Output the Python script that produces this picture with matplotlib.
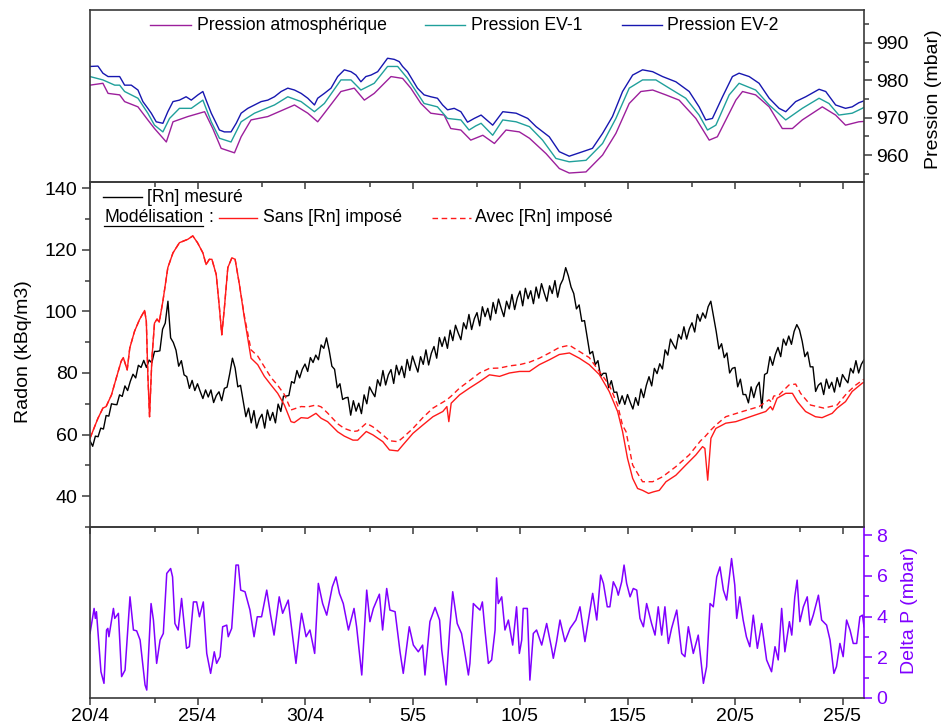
import matplotlib
matplotlib.use("Agg")
import matplotlib.pyplot as plt
import numpy as np
from matplotlib.lines import Line2D
from matplotlib.ticker import MultipleLocator, FixedLocator

plt.rcParams['font.family'] = ['Liberation Sans', 'DejaVu Sans']

# time axis: days since 20/4
tick_days = [0, 5, 10, 15, 20, 25, 30, 35]
tick_labels = ['20/4', '25/4', '30/4', '5/5', '10/5', '15/5', '20/5', '25/5']
minor_days = [3, 8, 13, 18, 23, 28, 33]

# pressures (mbar)
p_atm_days = [0, 0.6, 0.84, 1.38, 1.61, 2.23, 2.69, 3.0, 3.55, 3.86, 4.55, 5.33, 5.71, 6.1, 6.72, 7.03,
              7.49, 8.27, 9.51, 10.13, 10.59, 10.9, 11.67, 12.29, 12.76, 13.22, 14.0, 14.54, 14.92, 15.39,
              15.85, 16.47, 16.78, 17.25, 17.71, 18.27, 18.81, 19.35, 19.97, 20.44, 21.21, 21.83, 22.29,
              23.07, 23.84, 24.46, 25.08, 25.62, 26.17, 26.78, 27.4, 28.18, 28.8, 29.18, 30.04, 30.35,
              30.96, 31.59, 32.2, 32.67, 33.13, 34.06, 34.68, 35.14, 35.76, 36.0]
p_atm = [978.7, 979.2, 976.5, 976.1, 974.3, 972.9, 969.4, 967.1, 963.5, 968.9, 970.3, 971.6, 967.1, 961.8,
         960.6, 964.9, 969.4, 970.3, 973.4, 971.2, 968.9, 971.2, 977.0, 977.9, 974.7, 976.5, 981.0, 980.5,
         977.9, 973.8, 971.2, 970.7, 967.1, 966.7, 964.0, 965.3, 963.1, 966.7, 966.2, 964.5, 960.4, 956.4,
         955.2, 955.5, 960.0, 965.8, 973.8, 977.0, 977.4, 976.1, 974.7, 969.8, 964.0, 964.9, 974.7, 977.0,
         976.1, 972.9, 967.1, 967.1, 969.4, 972.9, 970.7, 968.0, 968.9, 969.0]

p_ev1_days = [0, 0.6, 1.15, 1.38, 1.61, 2.23, 2.69, 3.0, 3.39, 3.7, 4.16, 4.71, 5.25, 5.64, 6.02, 6.56,
              7.03, 7.65, 8.58, 9.2, 9.82, 10.44, 10.9, 11.67, 12.14, 12.6, 13.22, 13.84, 14.31, 14.77,
              15.54, 16.16, 16.63, 17.25, 17.63, 17.94, 18.19, 18.73, 19.2, 19.82, 20.44, 21.05, 21.67,
              22.29, 23.07, 23.84, 24.46, 25.08, 25.7, 26.32, 26.94, 27.71, 28.33, 28.72, 29.11, 29.73,
              30.19, 30.96, 31.59, 32.36, 33.13, 33.91, 34.37, 34.83, 35.45, 35.92, 36.0]
p_ev1 = [981.0, 980.1, 978.7, 978.7, 977.0, 975.2, 971.2, 968.0, 966.2, 969.8, 972.5, 972.5, 974.7, 968.9,
         964.5, 963.5, 968.9, 971.2, 973.4, 975.6, 974.3, 971.6, 973.8, 980.1, 980.1, 977.4, 979.2, 983.7,
         983.7, 980.5, 973.8, 972.9, 969.8, 969.4, 966.7, 967.8, 968.5, 965.3, 969.4, 968.9, 967.6, 964.0,
         959.1, 958.2, 958.6, 963.1, 969.8, 977.9, 980.1, 980.1, 977.9, 975.2, 970.7, 966.7, 968.0, 976.1,
         979.2, 977.4, 973.4, 969.4, 972.5, 975.2, 973.8, 970.7, 971.2, 972.5, 972.8]

p_ev2_days = [0, 0.37, 0.6, 0.84, 1.15, 1.38, 1.61, 1.92, 2.23, 2.46, 2.69, 2.85, 3.08, 3.39, 3.62, 3.86,
              4.16, 4.47, 4.71, 5.02, 5.25, 5.4, 5.64, 5.87, 6.02, 6.25, 6.56, 6.8, 7.03, 7.34, 7.65, 7.96,
              8.27, 8.58, 8.89, 9.2, 9.51, 9.82, 10.13, 10.44, 10.59, 10.9, 11.21, 11.52, 11.83, 12.14,
              12.37, 12.6, 12.83, 13.07, 13.38, 13.61, 13.84, 14.15, 14.38, 14.54, 14.77, 15.0, 15.23,
              15.54, 15.85, 16.16, 16.4, 16.63, 16.94, 17.25, 17.56, 17.87, 18.19, 18.73, 19.2, 19.82,
              20.36, 20.75, 21.36, 21.83, 22.29, 22.91, 23.37, 23.84, 24.3, 24.77, 25.24, 25.7, 26.17,
              26.63, 27.25, 27.87, 28.33, 28.64, 28.95, 29.42, 29.88, 30.19, 30.66, 31.12, 31.59, 32.05,
              32.36, 32.82, 33.29, 33.91, 34.22, 34.68, 35.14, 35.45, 35.76, 36.0]
p_ev2 = [983.7, 983.8, 981.9, 981.0, 981.0, 981.0, 978.7, 978.7, 977.4, 974.3, 972.5, 971.2, 968.9, 968.5,
         971.6, 974.3, 974.7, 975.6, 974.7, 976.1, 977.0, 974.7, 971.2, 968.5, 966.7, 966.2, 966.2, 968.5,
         971.2, 972.5, 973.4, 974.3, 974.7, 975.6, 977.0, 977.9, 977.4, 976.5, 975.2, 973.4, 975.2, 976.5,
         977.9, 981.0, 982.8, 982.3, 981.4, 979.6, 981.0, 981.4, 982.3, 984.1, 985.9, 985.6, 985.0, 983.7,
         982.3, 980.1, 977.9, 976.1, 975.6, 975.2, 973.4, 972.1, 972.5, 971.6, 968.8, 969.8, 970.7, 968.0,
         971.6, 971.2, 969.8, 967.6, 964.9, 960.9, 959.7, 960.9, 961.8, 965.8, 970.3, 977.0, 981.4, 982.8,
         982.3, 981.0, 979.6, 977.0, 972.9, 969.4, 969.8, 975.6, 981.0, 981.9, 981.0, 979.2, 975.2, 972.5,
         971.6, 974.3, 975.6, 977.6, 977.0, 973.4, 972.5, 972.9, 974.0, 974.5]

# measured radon (kBq/m3), one value every 3 hours from 20/4
rn_step = 0.125
rn_meas = [58.0, 56.2, 59.5, 59.3, 62.1, 61.8, 66.2, 66.0, 70.0, 69.8, 69.7, 72.9, 72.4, 75.8, 74.3, 77.3,
           79.6, 78.4, 82.5, 81.8, 84.1, 81.8, 84.2, 83.3,
           87.0, 87.0, 87.2, 94.2, 96.2, 103.3, 91.4, 89.9, 87.4, 82.2, 84.0, 79.4, 78.8, 75.0, 77.6, 74.3,
           76.5, 74.0, 71.7, 74.5, 72.2, 74.5, 70.4, 72.7, 73.9, 71.0, 75.0, 75.4, 79.8, 84.8, 81.6, 75.5,
           76.0, 70.8, 65.8, 68.6, 63.8, 67.8, 62.1, 65.1, 66.6, 62.1, 68.0, 64.6, 67.2, 63.8, 69.9, 67.5,
           72.5, 72.5, 72.7, 77.2, 76.7, 80.8, 78.4, 81.2, 82.9, 80.5, 85.0, 83.4, 85.8, 84.3, 89.1, 88.0,
           91.4, 87.3, 82.2, 81.2, 75.2, 76.5, 71.4, 71.9,
           72.1, 66.3, 71.0, 67.6, 70.2, 66.8, 72.9, 70.0, 75.5, 73.8, 72.3, 77.8, 75.8, 80.8, 76.1, 79.4,
           81.1, 76.6, 82.5, 79.4, 82.2, 78.5, 84.4, 80.8, 85.5, 82.8, 80.3, 85.3, 82.8, 87.5, 82.6, 86.4,
           88.6, 84.8, 91.5, 88.6, 91.7, 88.0, 93.9, 90.5, 95.5, 93.0, 90.8, 96.3, 94.3, 99.0, 94.1, 97.6,
           99.6, 95.3, 101.5, 98.3, 101.0, 97.2, 102.9, 99.3, 104.0, 101.0, 98.3, 103.3, 100.8, 105.5, 100.6,
           104.4,
           106.6, 101.8, 107.5, 104.1, 106.7, 102.5, 107.9, 104.3, 109.0, 106.0, 103.3, 108.3, 105.8, 110.0,
           104.6, 108.6,
           110.4, 114.2, 111.5, 107.9, 105.8, 100.8, 102.1, 96.8, 97.0, 91.5, 86.2, 87.0, 82.7, 84.0, 78.9,
           79.9,
           79.9, 75.2, 77.5, 73.7, 73.8, 70.0, 72.6, 69.8,
           73.0, 70.5, 68.3, 72.0, 69.5, 74.8, 72.0, 76.0, 78.8, 75.8, 81.5, 79.8, 83.0, 81.3, 87.5, 85.8,
           91.0, 89.3, 87.8, 92.5, 91.0, 95.0, 91.0, 94.3, 96.3, 93.3, 99.0, 96.8, 99.5, 97.8, 101.5, 103.3,
           98.5, 93.5, 87.8, 89.5, 85.0, 86.5, 80.0, 81.5, 81.8, 75.5, 78.0, 73.0, 73.0, 70.3, 75.5, 72.0,
           75.5, 77.0, 68.6, 79.5, 80.0, 85.3, 82.5, 86.0, 88.3, 85.3, 91.0, 89.0, 92.0, 89.3, 93.5, 95.7,
           94.0, 90.3, 85.3, 86.8, 82.0, 82.0, 74.0, 76.0, 76.8, 73.0, 78.0, 75.0, 77.0, 73.8, 78.5, 75.5,
           79.5, 78.0, 76.8, 81.5, 80.0, 84.0, 80.0, 82.8, 84.3]
rn_days = np.arange(len(rn_meas)) * rn_step

# model without imposed [Rn]
sans_days = [0, 0.37, 0.6, 0.75, 1.0, 1.22, 1.45, 1.55, 1.73, 1.85, 2.07, 2.3, 2.54, 2.62, 2.69, 2.77,
             2.88, 3.0, 3.12, 3.22, 3.39, 3.62, 3.86, 4.16, 4.55, 4.78, 5.0, 5.25, 5.4, 5.55, 5.67, 5.87,
             6.02, 6.13, 6.25, 6.41, 6.6, 6.75, 6.95, 7.18, 7.49, 7.8, 8.11, 8.42, 8.73, 9.04, 9.35, 9.5,
             9.82, 10.13, 10.51, 10.75, 11.05, 11.52, 11.83, 12.23, 12.45, 12.85, 13.16, 13.62, 13.93,
             14.32, 14.55, 15.02, 15.48, 15.95, 16.41, 16.6, 16.69, 16.8, 17.19, 17.65, 18.12, 18.58,
             19.05, 19.51, 19.98, 20.44, 20.9, 21.37, 21.83, 22.3, 22.76, 23.22, 23.69, 24.15, 24.54,
             24.77, 25.0, 25.24, 25.47, 25.7, 25.98, 26.2, 26.48, 26.79, 27.25, 27.71, 28.18, 28.49,
             28.6, 28.73, 28.88, 29.11, 29.57, 30.04, 30.5, 30.96, 31.43, 31.65, 31.75, 31.96, 32.36,
             32.67, 32.9, 33.28, 33.74, 34.05, 34.52, 34.75, 35.14, 35.45, 35.92, 36.0]
sans_rn = [58.8, 65.3, 68.6, 69.1, 72.9, 78.3, 83.8, 85.0, 81.0, 88.1, 93.5, 97.3, 100.3, 96.8, 79.4,
           65.8, 84.8, 96.2, 97.5, 96.5, 103.3, 114.2, 119.0, 122.3, 123.4, 124.5, 122.3, 119.0, 115.2,
           116.9, 116.9, 112.0, 101.1, 92.4, 101.1, 114.2, 117.4, 116.9, 108.7, 97.9, 84.8, 82.7, 78.9,
           76.1, 73.4, 69.6, 64.2, 63.9, 65.5, 65.3, 66.9, 65.3, 64.2, 60.9, 59.5, 58.2, 58.2, 61.0,
           59.9, 57.7, 55.0, 54.7, 56.6, 60.4, 63.1, 65.8, 67.5, 69.1, 64.2, 70.2, 72.9, 75.1, 77.2,
           79.4, 78.9, 80.0, 80.5, 80.5, 82.7, 84.3, 86.0, 86.5, 84.8, 82.7, 79.5, 74.0, 67.5, 61.0,
           52.3, 45.8, 42.5, 41.9, 40.9, 41.4, 41.9, 44.7, 46.8, 50.1, 53.4, 56.1, 55.5, 45.2, 58.8,
           62.0, 63.7, 64.2, 65.3, 66.4, 67.5, 69.1, 68.0, 71.8, 73.4, 73.4, 70.7, 67.5, 65.8, 65.5,
           66.9, 68.6, 70.7, 74.0, 76.7, 77.0]

# model with imposed [Rn]
avec_days = [0, 0.37, 0.6, 0.75, 1.0, 1.22, 1.45, 1.55, 1.73, 1.85, 2.07, 2.3, 2.54, 2.62, 2.69, 2.77,
             2.88, 3.0, 3.12, 3.22, 3.39, 3.62, 3.86, 4.16, 4.55, 4.78, 5.0, 5.25, 5.4, 5.55, 5.67, 5.87,
             6.02, 6.13, 6.25, 6.41, 6.6, 6.75, 6.95, 7.18, 7.49, 7.8, 8.11, 8.42, 8.73, 9.04, 9.35,
             9.82, 10.13, 10.51, 10.75, 11.05, 11.52, 11.83, 12.23, 12.45, 12.85, 13.16, 13.62, 13.93,
             14.32, 14.55, 15.02, 15.48, 15.95, 16.41, 16.6, 16.8, 17.19, 17.65, 18.12, 18.58, 19.05,
             19.51, 19.98, 20.44, 20.9, 21.37, 21.83, 22.3, 22.76, 23.22, 23.69, 24.15, 24.54, 24.77,
             24.93, 25.24, 25.7, 26.17, 26.63, 27.25, 27.87, 28.4, 28.6, 28.88, 29.11, 29.57, 30.35,
             31.12, 31.58, 31.7, 31.8, 32.05, 32.51, 32.82, 33.05, 33.51, 34.13, 34.75, 35.2, 35.6, 36.0]
avec_rn = [58.8, 65.3, 68.6, 69.1, 72.9, 78.3, 83.8, 85.0, 81.0, 88.1, 93.5, 97.3, 100.3, 96.8, 79.4,
           65.8, 84.8, 96.2, 97.5, 96.5, 103.3, 114.2, 119.0, 122.3, 123.4, 124.5, 122.3, 119.0, 115.2,
           116.9, 116.9, 112.0, 101.1, 92.4, 101.1, 114.2, 117.4, 116.9, 108.7, 98.5, 87.5, 85.5, 82.0,
           78.5, 76.0, 73.0, 68.0, 69.1, 69.0, 69.6, 69.0, 67.0, 63.5, 62.0, 61.0, 61.2, 63.7, 62.5,
           59.9, 58.0, 57.7, 59.0, 62.0, 65.5, 68.6, 70.5, 71.3, 72.5, 75.1, 77.5, 80.0, 81.5, 81.6,
           82.3, 82.7, 83.5, 84.8, 86.5, 88.3, 89.0, 87.0, 85.0, 80.5, 76.1, 69.6, 63.0, 61.0, 50.1,
           44.7, 44.7, 46.3, 49.6, 53.4, 58.0, 59.3, 61.5, 63.1, 65.8, 67.5, 69.1, 71.3, 70.5, 72.5,
           72.9, 76.1, 76.4, 73.4, 69.6, 68.6, 69.6, 73.4, 76.0, 78.0]

# pressure difference (mbar)
dp_days = [0.0, 0.19, 0.25, 0.3, 0.51, 0.65, 0.77, 0.83, 0.88, 1.09, 1.15, 1.32, 1.47, 1.63, 1.86, 2.02,
           2.17, 2.33, 2.56, 2.64, 2.84, 2.95, 3.1, 3.26, 3.41, 3.57, 3.75, 3.84, 3.95, 4.1, 4.26, 4.49,
           4.62, 4.81, 4.96, 5.09, 5.27, 5.43, 5.61, 5.78, 5.89, 6.05, 6.17, 6.36, 6.43, 6.59, 6.67, 6.79,
           6.9, 7.01, 7.21, 7.44, 7.63, 7.78, 7.98, 8.22, 8.4, 8.56, 8.8, 8.96, 9.22, 9.33, 9.58, 9.77,
           9.84, 10.05, 10.23, 10.45, 10.62, 10.82, 11.01, 11.27, 11.44, 11.6, 11.78, 12.02, 12.28, 12.4,
           12.64, 12.87, 13.02, 13.18, 13.46, 13.61, 13.8, 13.95, 14.19, 14.42, 14.57, 14.85, 15.04,
           15.27, 15.47, 15.58, 15.81, 16.05, 16.26, 16.36, 16.56, 16.74, 16.87, 17.08, 17.28, 17.44,
           17.6, 17.67, 17.83, 17.98, 18.14, 18.25, 18.37, 18.53, 18.68, 18.84, 18.91, 18.99, 19.15,
           19.3, 19.46, 19.66, 19.84, 19.97, 20.08, 20.15, 20.34, 20.46, 20.62, 20.77, 21.01, 21.24,
           21.47, 21.55, 21.7, 21.86, 22.09, 22.33, 22.6, 22.79, 23.02, 23.18, 23.38, 23.57, 23.75,
           23.88, 24.06, 24.18, 24.34, 24.49, 24.57, 24.73, 24.84, 24.96, 25.12, 25.27, 25.43, 25.58,
           25.74, 25.89, 26.12, 26.28, 26.43, 26.59, 26.74, 26.9, 27.05, 27.29, 27.52, 27.67, 27.83,
           28.06, 28.29, 28.53, 28.68, 28.84, 28.99, 29.15, 29.3, 29.46, 29.61, 29.84, 29.99, 30.08,
           30.22, 30.38, 30.53, 30.69, 30.85, 31.04, 31.24, 31.47, 31.7, 31.86, 32.01, 32.17, 32.32,
           32.53, 32.64, 32.78, 32.89, 33.02, 33.18, 33.36, 33.49, 33.64, 33.88, 34.03, 34.26, 34.42,
           34.6, 34.72, 34.88, 35.03, 35.19, 35.35, 35.5, 35.66, 35.81, 35.93, 36.0]
dp_vals = [3.17, 4.4, 3.91, 4.24, 1.29, 0.72, 3.34, 3.42, 3.01, 4.4, 3.91, 4.16, 1.05, 1.37, 4.97, 3.34,
           3.3, 2.85, 0.64, 0.39, 4.64, 3.83, 1.7, 2.85, 3.17, 6.12, 6.36, 5.95, 3.66, 3.34, 4.89, 2.44,
           2.52, 4.72, 4.72, 3.99, 4.72, 2.19, 1.21, 2.27, 1.7, 2.03, 3.5, 3.58, 3.01, 3.42, 4.64, 6.53,
           6.53, 5.3, 5.22, 4.32, 3.01, 3.99, 3.99, 5.3, 4.07, 3.09, 4.97, 4.16, 4.81, 3.83, 1.7, 3.58,
           4.16, 3.01, 3.34, 2.19, 5.63, 4.64, 4.07, 5.46, 5.95, 5.14, 4.64, 3.34, 4.4, 3.5, 1.13, 5.3,
           3.75, 4.4, 5.1, 3.34, 5.38, 4.32, 4.24, 2.27, 1.21, 3.5, 2.6, 2.27, 2.6, 1.13, 3.75, 4.45,
           3.83, 2.35, 0.64, 3.5, 5.22, 3.66, 3.17, 2.19, 1.13, 1.7, 4.64, 4.48, 4.32, 4.72, 3.34, 1.7,
           1.87, 3.34, 5.9, 4.64, 4.97, 3.34, 3.83, 2.6, 4.48, 2.19, 2.85, 4.4, 4.4, 0.88, 3.17, 3.34,
           2.6, 3.66, 2.44, 1.95, 2.77, 3.83, 2.77, 3.42, 3.83, 4.48, 2.77, 3.83, 5.14, 3.83, 6.04,
           5.63, 4.48, 4.48, 5.71, 5.38, 5.05, 5.71, 6.53, 5.63, 4.97, 5.38, 5.3, 3.91, 3.5, 4.64, 3.66,
           3.09, 4.48, 3.09, 4.48, 2.68, 3.42, 4.32, 2.19, 2.03, 3.5, 2.19, 3.09, 0.72, 1.54, 4.64, 4.48,
           5.95, 6.44, 5.3, 4.81, 6.85, 5.54, 3.91, 4.97, 3.83, 3.01, 2.52, 4.07, 2.44, 3.66, 1.87, 1.29,
           2.52, 1.87, 4.4, 2.27, 3.75, 3.09, 4.97, 5.79, 3.75, 4.48, 4.97, 3.58, 4.07, 5.05, 3.83, 3.58,
           2.85, 1.21, 1.54, 2.68, 2.03, 3.83, 3.34, 2.68, 2.68, 3.99, 4.07, 3.5]

c_atm = '#9c1f9c'
c_ev1 = '#20a09b'
c_ev2 = '#1717b0'
c_red = '#ff1a1a'
c_dp = '#8000ff'
c_frame = '#3a3a3a'

W, H = 943, 727
fig = plt.figure(figsize=(W / 100, H / 100), dpi=100)


def fx(px):
    return px / W


def fy(py):
    return 1 - py / H


left, right = 90, 864
ax_p = fig.add_axes([fx(left), fy(182), fx(right - left), (182 - 10) / H])
ax_rn = fig.add_axes([fx(left), fy(527), fx(right - left), (527 - 182) / H])
ax_dp = fig.add_axes([fx(left), fy(698), fx(right - left), (698 - 527) / H])

for ax in (ax_p, ax_rn, ax_dp):
    ax.patch.set_visible(False)
    ax.set_xlim(0, 36)
    for sp in ax.spines.values():
        sp.set_color(c_frame)
        sp.set_linewidth(1.2)
    ax.xaxis.set_major_locator(FixedLocator(tick_days))
    ax.xaxis.set_minor_locator(FixedLocator(minor_days))
    ax.tick_params(axis='x', which='both', direction='out', bottom=True, top=False,
                   labelbottom=False, color=c_frame, width=1.1)
    ax.tick_params(axis='x', which='major', length=5)
    ax.tick_params(axis='x', which='minor', length=3.5)

# top panel: pressures
ax_p.plot(p_atm_days, p_atm, color=c_atm, lw=1.0)
ax_p.plot(p_ev1_days, p_ev1, color=c_ev1, lw=1.0)
ax_p.plot(p_ev2_days, p_ev2, color=c_ev2, lw=1.0)
ax_p.set_ylim(952.8, 998.8)
ax_p.yaxis.tick_right()
ax_p.yaxis.set_major_locator(MultipleLocator(10))
ax_p.yaxis.set_minor_locator(MultipleLocator(5))
ax_p.tick_params(axis='y', which='both', direction='out', left=False, right=True,
                 labelsize=14, color=c_frame, width=1.1, pad=3)
ax_p.tick_params(axis='y', which='major', length=6)
ax_p.tick_params(axis='y', which='minor', length=3.5)

# middle panel: radon
ax_rn.plot(rn_days, rn_meas, color='black', lw=1.0)
ax_rn.plot(sans_days, sans_rn, color=c_red, lw=1.0)
ax_rn.plot(avec_days, avec_rn, color=c_red, lw=1.0, dashes=(4, 2.6))
ax_rn.set_ylim(30, 142)
ax_rn.yaxis.set_major_locator(MultipleLocator(20))
ax_rn.yaxis.set_minor_locator(MultipleLocator(10))
ax_rn.tick_params(axis='y', which='both', direction='out', left=True, right=False,
                  labelsize=14, color=c_frame, width=1.1, pad=3)
ax_rn.tick_params(axis='y', which='major', length=6)
ax_rn.tick_params(axis='y', which='minor', length=3.5)

# bottom panel: delta P
ax_dp.plot(dp_days, dp_vals, color=c_dp, lw=1.1)
ax_dp.set_ylim(0, 8.4)
ax_dp.yaxis.tick_right()
ax_dp.yaxis.set_major_locator(MultipleLocator(2))
ax_dp.yaxis.set_minor_locator(MultipleLocator(1))
ax_dp.tick_params(axis='y', which='both', direction='out', left=False, right=True,
                  labelsize=14, color=c_dp, labelcolor=c_dp, width=1.1, pad=3)
ax_dp.tick_params(axis='y', which='major', length=6)
ax_dp.tick_params(axis='y', which='minor', length=3.5)
ax_dp.spines['right'].set_color(c_dp)
ax_dp.set_xticklabels(tick_labels)
ax_dp.tick_params(axis='x', labelbottom=True, labelsize=14, pad=2)

# axis titles
fig.text(fx(24), fy(352), 'Radon (kBq/m3)', rotation=90, ha='center', va='center', fontsize=14)
fig.text(fx(933), fy(99), 'Pression (mbar)', rotation=90, ha='center', va='center', fontsize=14)
fig.text(fx(909), fy(610), 'Delta P (mbar)', rotation=90, ha='center', va='center', fontsize=14,
         color=c_dp)

# legends
fs_leg = 12.7


def handle(x0, x1, y, **kw):
    fig.add_artist(Line2D([fx(x0), fx(x1)], [fy(y), fy(y)], transform=fig.transFigure, **kw))


handle(150, 191, 25, color=c_atm, lw=1.0)
fig.text(fx(197), fy(25), 'Pression atmosphérique', ha='left', va='center', fontsize=fs_leg)
handle(425, 465, 25, color=c_ev1, lw=1.0)
fig.text(fx(471), fy(25), 'Pression EV-1', ha='left', va='center', fontsize=fs_leg)
handle(622, 662, 25, color=c_ev2, lw=1.0)
fig.text(fx(667), fy(25), 'Pression EV-2', ha='left', va='center', fontsize=fs_leg)

handle(103, 142, 197, color='black', lw=1.0)
fig.text(fx(147), fy(197), '[Rn] mesuré', ha='left', va='center', fontsize=fs_leg)
t_mod = fig.text(fx(104), fy(218), 'Modélisation', ha='left', va='center', fontsize=fs_leg)
fig.text(fx(208), fy(218), ':', ha='left', va='center', fontsize=fs_leg)
handle(219, 257, 218, color=c_red, lw=1.0)
fig.text(fx(263), fy(218), 'Sans [Rn] imposé', ha='left', va='center', fontsize=fs_leg)
handle(432, 471, 218, color=c_red, lw=1.0, dashes=(4, 2.6))
fig.text(fx(475), fy(218), 'Avec [Rn] imposé', ha='left', va='center', fontsize=fs_leg)

# underline "Modélisation"
fig.canvas.draw()
bb = t_mod.get_window_extent().transformed(fig.transFigure.inverted())
fig.add_artist(Line2D([bb.x0, bb.x1], [bb.y0 + 0.001, bb.y0 + 0.001], transform=fig.transFigure,
                      color='black', lw=0.9))

fig.savefig('out.png', dpi=100, facecolor='white')
